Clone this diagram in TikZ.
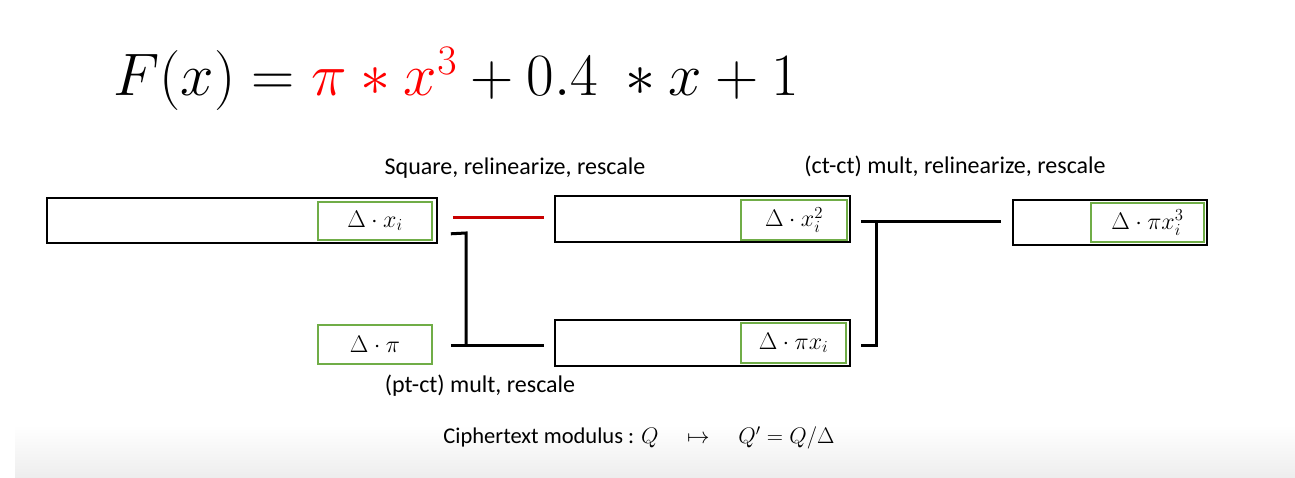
\RequirePackage{fix-cm}
\documentclass[tikz,border=0pt]{standalone}
\usepackage{fontspec}
\setmainfont{Carlito}
\usetikzlibrary{calc}
\definecolor{boxgreen}{RGB}{112,173,71}
\definecolor{redline}{RGB}{200,0,0}
\begin{document}
\begin{tikzpicture}[x=1pt,y=-1pt,
  outerbox/.style={draw=black,line width=1.6pt,inner sep=0pt,fill=white},
  greenbox/.style={draw=boxgreen,line width=1.6pt,inner sep=0pt,font=\fontsize{24}{28}\selectfont},
  conn/.style={line width=3pt},
  lbl/.style={font=\fontsize{24}{28}\selectfont,inner sep=0pt}]
\useasboundingbox (0,0) rectangle (1295,478);
\shade[top color=white,bottom color=black!7] (15,425) rectangle (1295,478);
% formula
\node[anchor=base west,inner sep=0pt,font=\fontsize{60}{68}\selectfont] (F) at (113,96)
  {$F(x) = {\color{red}\pi * x^3} + 0.4\ * x + 1$};
% boxes
\node[outerbox,minimum width=390pt,minimum height=45pt] (A) at (242,220.5) {};
\node[greenbox,minimum width=114pt,minimum height=38pt] (gA) at (375,221) {$\Delta\cdot x_i$};
\node[greenbox,minimum width=114pt,minimum height=39pt] (gP) at (375,344.5) {$\Delta\cdot \pi$};
\node[outerbox,minimum width=295pt,minimum height=46pt] (B) at (702.5,219) {};
\node[greenbox,minimum width=106pt,minimum height=40pt] (gB) at (794,220) {$\Delta\cdot x_i^2$};
\node[outerbox,minimum width=295pt,minimum height=46pt] (C) at (702.5,343) {};
\node[greenbox,minimum width=105pt,minimum height=40pt] (gC) at (793.5,343) {$\Delta\cdot \pi x_i$};
\node[outerbox,minimum width=194pt,minimum height=45pt] (D) at (1110,222.5) {};
\node[greenbox,minimum width=113pt,minimum height=39pt] (gD) at (1147.5,222.5) {$\Delta\cdot \pi x_i^3$};
% connectors
\coordinate (r1) at ($(A.east)+(15,-2.5)$);
\coordinate (r2) at ($(B.west)+(-10,-1)$);
\draw[conn,draw=redline] (r1) -- (r2);
\coordinate (h1) at ($(A.south east)+(13,-10)$);
\coordinate (v1) at (466,233);
\coordinate (p1) at ($(gP.east)+(18,0.5)$);
\coordinate (p2) at ($(C.west)+(-10,2)$);
\draw[conn] (h1) -- (v1) -- (v1 |- p1);
\draw[conn] (p1) -- (p2);
\coordinate (t1) at ($(B.east)+(10,3)$);
\coordinate (t2) at (876,222);
\coordinate (b1) at ($(C.east)+(10,2)$);
\draw[conn] (t1) -- (t2) -- (t2 |- b1) -- (b1);
\coordinate (d1) at ($(D.west)+(-11,-0.5)$);
\draw[conn] (t2) -- (d1);
% labels
\node[lbl] (l1) at (515,168) {Square, relinearize, rescale};
\node[lbl] (l2) at (955,166) {(ct-ct) mult, relinearize, rescale};
\node[lbl] (l3) at (480,386) {(pt-ct) mult, rescale};
\node[lbl,font=\fontsize{22.5}{26}\selectfont] (l4) at (639,438) {Ciphertext modulus : $Q\quad\mapsto\quad Q' = Q/\Delta$};
\end{tikzpicture}
\end{document}
